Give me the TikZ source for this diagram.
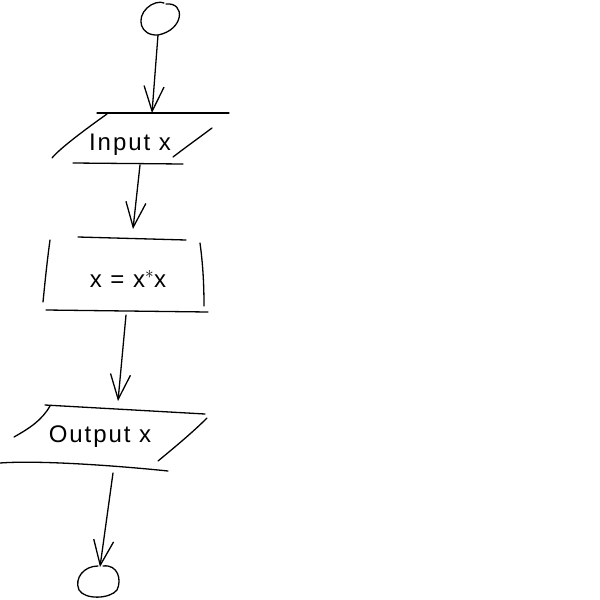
\documentclass[tikz,border=0pt]{standalone}
\usepackage{fontspec}
\setmainfont{Liberation Sans}[LetterSpace=8]
\usetikzlibrary{arrows.meta}
\begin{document}
\begin{tikzpicture}[x=1pt,y=-1pt,
  pen/.style={line width=1.3pt, line cap=round, line join=round, black},
  flow/.style={pen, -{Straight Barb[length=25pt,width=20pt,line width=1.3pt]}},
  label/.style={font=\fontsize{24}{27}\selectfont, inner sep=0pt}]
\useasboundingbox (0,0) rectangle (600,600);

% start and end terminals (open hand-drawn loops)
\coordinate (start) at (160,18);
\draw[pen] (166,4) .. controls (186,2) and (184,30) .. (158,35)
  .. controls (140,36) and (136,18) .. (147,8)
  .. controls (152,3) and (160,1) .. (164,3);
\coordinate (stop) at (98,580);
\draw[pen] (103,566) .. controls (118,564) and (122,580) .. (117,590)
  .. controls (110,599) and (85,600) .. (79,590)
  .. controls (74,578) and (84,566) .. (98,566);

% input box
\node[label] (inp) at (130,145) {Input x};
\draw[pen] (97,113) -- (229,113);
\draw[pen] (107,114) .. controls (90,126) and (60,148) .. (52,158);
\draw[pen] (173,157) .. controls (186,147) and (200,137) .. (212,128);
\draw[pen] (73,163) -- (183,164);

% process box
\node[label] (proc) at (128,279) {x = x$^{\ast}$x};
\draw[pen] (78,237) -- (186,240);
\draw[pen] (50,240) .. controls (47,262) and (45,282) .. (43,302);
\draw[pen] (200,243) .. controls (203,265) and (204,285) .. (204,306);
\draw[pen] (46,310) -- (208,312);

% output box
\node[label] (outp) at (100,437) {Output x};
\draw[pen] (45,405) -- (205,414);
\draw[pen] (50,406) .. controls (42,420) and (30,428) .. (14,437);
\draw[pen] (158,461) .. controls (175,447) and (193,432) .. (207,418);
\draw[pen] (0,463) .. controls (40,460) and (120,466) .. (168,471);

% connectors
\coordinate (a1) at (158,35);  \coordinate (a2) at (152,113);
\coordinate (b1) at (140,165); \coordinate (b2) at (133,229);
\coordinate (c1) at (126,315); \coordinate (c2) at (118,401);
\coordinate (d1) at (113,473); \coordinate (d2) at (100,567);
\draw[flow] (a1) -- (a2);
\draw[flow] (b1) -- (b2);
\draw[flow] (c1) -- (c2);
\draw[flow] (d1) -- (d2);
\end{tikzpicture}
\end{document}
